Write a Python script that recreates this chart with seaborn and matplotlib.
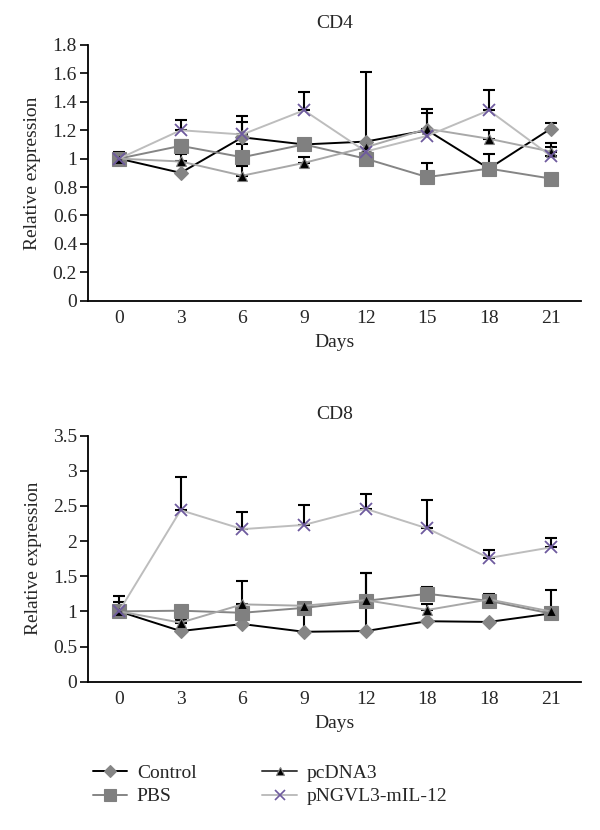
import numpy as np
import pandas as pd
import seaborn as sns
import matplotlib
matplotlib.use("Agg")
import matplotlib.pyplot as plt
from matplotlib.lines import Line2D

sns.set_theme(style="white")
plt.rcParams['font.family'] = ['Liberation Serif', 'DejaVu Serif']

series = ["Control", "PBS", "pcDNA3", "pNGVL3-mIL-12"]

cd4_days = ["0", "3", "6", "9", "12", "15", "18", "21"]
cd4_control = [1.00, 0.90, 1.15, 1.10, 1.12, 1.20, 0.93, 1.21]
cd4_pbs = [1.00, 1.09, 1.01, 1.10, 1.00, 0.87, 0.93, 0.86]
cd4_pcdna3 = [1.00, 0.98, 0.88, 0.97, 1.08, 1.21, 1.14, 1.05]
cd4_pngvl3 = [1.00, 1.20, 1.17, 1.34, 1.05, 1.16, 1.34, 1.02]
cd4_control_err = [0.00, 0.00, 0.15, 0.00, 0.49, 0.15, 0.00, 0.04]
cd4_pbs_err = [0.05, 0.04, 0.09, 0.00, 0.00, 0.10, 0.10, 0.00]
cd4_pcdna3_err = [0.00, 0.05, 0.07, 0.04, 0.00, 0.11, 0.06, 0.06]
cd4_pngvl3_err = [0.00, 0.07, 0.09, 0.13, 0.00, 0.00, 0.14, 0.06]

cd8_days = ["0", "3", "6", "9", "12", "18", "18", "21"]
cd8_control = [1.00, 0.72, 0.82, 0.71, 0.72, 0.86, 0.85, 0.97]
cd8_pbs = [1.00, 1.01, 0.98, 1.05, 1.15, 1.25, 1.15, 0.97]
cd8_pcdna3 = [1.00, 0.84, 1.10, 1.08, 1.16, 1.02, 1.17, 1.00]
cd8_pngvl3 = [1.00, 2.44, 2.17, 2.23, 2.46, 2.18, 1.76, 1.91]
cd8_control_err = [0.22, 0.00, 0.00, 0.41, 0.83, 0.00, 0.00, 0.00]
cd8_pbs_err = [0.13, 0.07, 0.00, 0.05, 0.00, 0.10, 0.10, 0.00]
cd8_pcdna3_err = [0.00, 0.04, 0.33, 0.00, 0.39, 0.09, 0.00, 0.30]
cd8_pngvl3_err = [0.00, 0.47, 0.25, 0.29, 0.21, 0.40, 0.12, 0.13]

FS = 14

styles = {
    "Control": dict(color="black", marker="D", mfc="#858585", mec="#858585", ms=7.5, lw=1.4),
    "PBS": dict(color="#858585", marker="s", mfc="#808080", mec="#808080", ms=9.5, lw=1.4),
    "pcDNA3": dict(color="#a8a8a8", marker="^", mfc="black", mec="#808080", ms=7.5, lw=1.4),
    "pNGVL3-mIL-12": dict(color="#bdbdbd", marker="x", mfc="#6e5a9e", mec="#6e5a9e", ms=8.5, lw=1.4),
}

fig = plt.figure(figsize=(6.0, 8.3), dpi=100)
ax1 = fig.add_axes([0.147, 0.6377, 0.822, 0.3081])
ax2 = fig.add_axes([0.147, 0.1787, 0.822, 0.2964])

def draw(ax, days, vals, errs, ymax, ystep, title):
    x = np.arange(len(days))
    for name in series:
        st = styles[name]
        df = pd.DataFrame({"x": x, "y": vals[name]})
        sns.lineplot(data=df, x="x", y="y", ax=ax, color=st["color"], lw=st["lw"],
                     marker=st["marker"], markerfacecolor=st["mfc"], markeredgecolor=st["mec"],
                     markersize=st["ms"], markeredgewidth=1.3 if st["marker"] == "x" else 0.8,
                     zorder=3)
        e = np.array(errs[name])
        m = e > 0
        if m.any():
            ax.errorbar(x[m], np.array(vals[name])[m], yerr=[np.zeros(m.sum()), e[m]],
                        fmt="none", ecolor="black", elinewidth=1.5, capsize=4, capthick=1.5, zorder=2)
    ax.set_xlim(-0.5, len(days) - 0.5)
    ax.set_ylim(0, ymax)
    ax.set_xticks(x)
    ax.set_xticklabels(days)
    ax.set_yticks(np.arange(0, ymax + 1e-9, ystep))
    ax.set_yticklabels([f"{v:g}" for v in np.arange(0, ymax + 1e-9, ystep)])
    ax.set_xlabel("Days", fontsize=FS, labelpad=5.5)
    ax.set_ylabel("Relative expression", fontsize=FS, labelpad=8)
    for s in ["top", "right"]:
        ax.spines[s].set_visible(False)
    for s in ["left", "bottom"]:
        ax.spines[s].set_color("black")
        ax.spines[s].set_linewidth(1.3)
    ax.tick_params(axis="y", left=True, length=6, width=1.2, color="black", labelsize=FS, pad=2)
    ax.tick_params(axis="x", bottom=False, labelsize=FS, pad=0.5)
    ax.set_title(title, fontsize=FS, pad=12)

draw(ax1, cd4_days,
     {"Control": cd4_control, "PBS": cd4_pbs, "pcDNA3": cd4_pcdna3, "pNGVL3-mIL-12": cd4_pngvl3},
     {"Control": cd4_control_err, "PBS": cd4_pbs_err, "pcDNA3": cd4_pcdna3_err, "pNGVL3-mIL-12": cd4_pngvl3_err},
     1.8, 0.2, "CD4")
draw(ax2, cd8_days,
     {"Control": cd8_control, "PBS": cd8_pbs, "pcDNA3": cd8_pcdna3, "pNGVL3-mIL-12": cd8_pngvl3},
     {"Control": cd8_control_err, "PBS": cd8_pbs_err, "pcDNA3": cd8_pcdna3_err, "pNGVL3-mIL-12": cd8_pngvl3_err},
     3.5, 0.5, "CD8")

handles = []
for name in series:
    st = styles[name]
    handles.append(Line2D([0], [0], color="#404040" if name == "pcDNA3" else st["color"], lw=st["lw"],
                          marker=st["marker"], markerfacecolor=st["mfc"], markeredgecolor=st["mec"],
                          markersize=st["ms"] * 0.85, markeredgewidth=1.2 if st["marker"] == "x" else 0.8))
fig.legend(handles, series, ncol=2, loc="upper left", bbox_to_anchor=(0.155, 0.079),
           frameon=False, fontsize=FS, handlelength=1.75, handletextpad=0.5,
           columnspacing=3.4, labelspacing=0.3, borderaxespad=0, borderpad=0)

fig.savefig("out.png", dpi=100)
